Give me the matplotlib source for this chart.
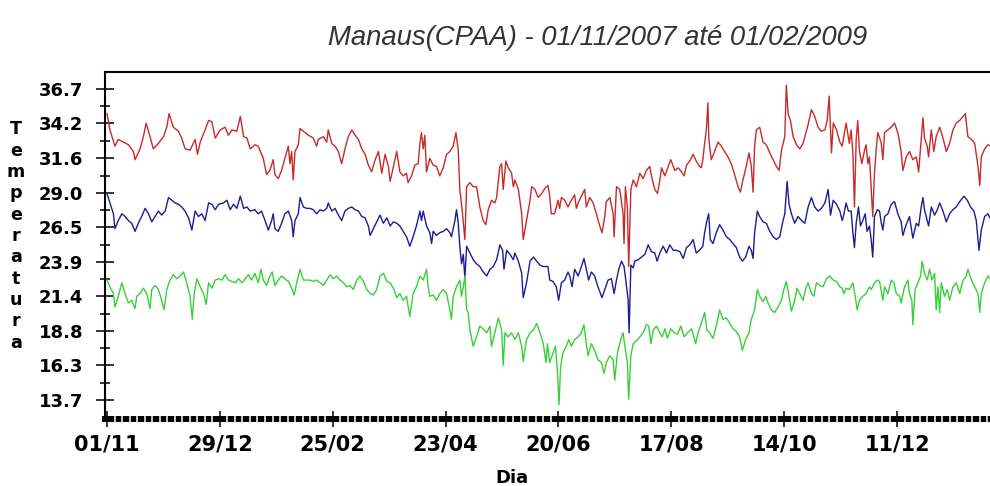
import matplotlib
matplotlib.use('Agg')
import matplotlib.pyplot as plt
import numpy as np

# dias contados a partir de 01/11/2007
tmax_dias = [0, 1.5, 4.1, 5.8, 8.4, 11, 13.6, 14.4, 17, 18.7, 20.1, 22.1, 23.8, 26.4, 29, 30.7, 31.9, 34.1, 36.7,
             38.4, 40.1, 42.7, 45.3, 46.5, 47.9, 50.4, 52.2, 53.9, 55.6, 58.2, 60.7, 62.4, 64.2, 66.7, 68.5, 70.2,
             71.9, 73.6, 76.0, 77.7, 80.3, 82.0, 83.7, 85.4, 86.3, 88.0, 89.7, 91.4, 93.2, 94.0, 94.9, 95.7, 96.6,
             98.3, 99.2, 100.9, 103.5, 106.0, 107.7, 108.6, 111.2, 112.9, 113.7, 115.5, 117.2, 118.9, 120.6, 122.3,
             124.0, 125.8, 127.5, 129.2, 130.9, 132.6, 134.3, 136.0, 137.8, 139.5, 141.2, 142.9, 144.6, 145.5,
             147.2, 148.9, 150.5, 152.2, 153.9, 154.7, 156.5, 158.2, 159.9, 160.8, 161.6, 162.5, 163.3, 164.2,
             165.9, 167.6, 169.3, 171.0, 172.8, 174.5, 176.2, 177.9, 179.3, 180.5, 181.3, 182.5, 183.9, 184.8,
             186.5, 188.2, 189.9, 191.6, 193.3, 194.7, 195.9, 197.6, 199.3, 200.2, 201.9, 202.8, 203.6, 205.0,
             206.2, 207.9, 208.8, 209.6, 211.4, 213.1, 213.9, 215.6, 217.4, 218.2, 219.9, 221.6, 223.4, 225.1,
             226.6, 227.5, 228.3, 230.0, 231.8, 232.6, 233.5, 235.2, 236.9, 238.6, 240.3, 241.2, 242.1, 243.8,
             245.5, 246.3, 248.1, 249.8, 251.5, 253.2, 254.4, 255.8, 256.6, 258.4, 260.1, 260.6, 261.8, 263.5,
             265.2, 265.7, 266.4, 267.4, 268.1, 269.2, 270.4, 272.1, 273.8, 275.5, 277.2, 278.9, 279.8, 281.5,
             282.9, 284.1, 285.0, 286.7, 288.4, 289.7, 291.8, 293.5, 295.2, 296.6, 297.8, 299.5, 301.2, 302.8,
             304.5, 305.4, 306.2, 307.1, 308.0, 308.8, 309.3, 310.5, 312.2, 314.0, 315.7, 317.4, 319.1, 320.8,
             322.5, 324.3, 325.5, 326.8, 328.5, 329.9, 331.1, 332.0, 332.8, 333.7, 335.4, 337.1, 338.8, 340.6,
             342.3, 344.0, 345.4, 346.6, 348.3, 349.1, 350.0, 351.2, 352.6, 354.3, 356.0, 357.7, 360.3, 362.0,
             363.7, 365.4, 367.1, 368.9, 370.1, 371.1, 372.3, 373.2, 374.9, 376.6, 377.8, 379.0, 379.8, 381.5,
             382.4, 383.3, 384.1, 385.0, 385.8, 386.7, 387.9, 389.3, 390.1, 391.0, 391.8, 392.7, 393.5, 394.4,
             395.3, 396.1, 397.8, 398.7, 399.6, 401.3, 403.0, 404.7, 406.4, 408.1, 409.0, 410.7, 412.4, 414.1,
             415.9, 417.1, 418.4, 419.3, 420.1, 421.5, 422.2, 423.6, 424.9, 426.1, 427.9, 429.6, 431.3, 433.0,
             434.7, 436.4, 438.2, 439.9, 441.1, 442.4, 444.2, 445.9, 447.6, 448.5, 449.3, 451.0, 452.7, 454.4,
             456.3, 458]
tmax = [34.9, 33.7, 32.5, 33.0, 32.8, 32.6, 32.1, 31.5, 32.3, 33.2, 34.2, 33.2, 32.3, 32.7, 33.2, 33.9, 34.9, 33.9,
        33.6, 33.1, 32.3, 32.2, 33.0, 31.9, 32.8, 33.7, 34.4, 34.3, 33.1, 33.7, 33.9, 33.3, 33.7, 33.6, 34.7, 33.2,
        33.1, 32.3, 32.6, 32.5, 31.6, 30.4, 30.7, 31.5, 30.4, 30.1, 30.7, 31.6, 32.5, 31.2, 32.1, 30.0, 32.1,
        32.6, 33.8, 33.6, 33.3, 33.1, 32.5, 33.0, 33.2, 32.8, 33.7, 32.7, 32.5, 32.1, 31.2, 32.3,
        33.2, 33.7, 33.3, 33.0, 32.3, 31.9, 31.1, 30.6, 31.5, 32.1, 30.5, 31.9, 31.0, 29.9,
        31.0, 32.1, 30.6, 30.3, 30.5, 29.8, 30.3, 31.1, 31.2, 32.7, 33.5, 32.3, 33.3, 30.6,
        31.6, 31.1, 31.0, 30.3, 30.9, 31.9, 32.1, 32.5, 33.5, 32.2, 29.3, 27.8, 25.6, 29.5,
        29.8, 29.5, 29.5, 28.0, 27.0, 26.7, 27.8, 28.5, 28.3, 28.7, 31.0, 31.2, 29.3, 31.4,
        30.9, 30.5, 29.5, 30.0, 29.3, 27.5, 25.6, 27.0, 28.5, 29.5, 29.3, 28.7, 29.0, 29.4,
        29.6, 28.8, 27.5, 27.5, 28.5, 27.9, 28.7, 28.5, 28.0, 28.5, 28.9, 27.9, 28.3, 28.8,
        29.3, 28.0, 28.7, 28.3, 27.5, 26.6, 26.1, 27.3, 28.4, 28.7, 27.5, 25.8, 29.5, 29.3,
        27.5, 25.3, 29.5, 28.0, 23.6, 29.3, 30.0, 29.5, 30.5, 30.1, 30.7, 31.0, 30.3, 29.3,
        29.0, 30.0, 30.9, 30.3, 31.0, 31.5, 30.7, 30.9, 30.6, 30.3, 31.1, 31.4, 31.9, 31.4,
        31.0, 30.9, 31.5, 32.7, 33.7, 35.7, 33.0, 31.5, 32.1, 32.8, 32.5, 32.1, 31.7, 31.2,
        30.4, 29.5, 29.1, 30.0, 31.0, 32.0, 31.0, 29.1, 32.5, 33.7, 33.9, 32.8, 32.6, 32.0,
        31.5, 31.0, 30.7, 32.2, 33.2, 37.0, 34.9, 34.4, 33.2, 32.6, 32.3, 32.7, 34.1, 35.2,
        34.7, 33.9, 33.6, 33.7, 34.4, 36.2, 32.0, 34.2, 33.7, 32.8, 32.5, 33.5, 34.2, 32.7,
        33.7, 32.0, 28.0, 33.0, 34.4, 32.1, 31.2, 32.2, 32.6, 31.2, 31.7, 29.3, 27.3, 30.5,
        32.3, 33.5, 32.8, 31.5, 33.5, 33.7, 33.9, 34.2, 33.5, 32.1, 30.7, 31.7, 32.1, 31.5,
        31.7, 30.6, 33.0, 34.6, 33.1, 32.5, 31.7, 33.7, 32.1, 33.2, 33.9, 33.1, 32.1, 32.7,
        33.7, 34.2, 34.4, 34.7, 34.9, 33.2, 33.0, 32.7, 31.0, 29.6, 31.7, 32.3, 32.6, 32.5,
        32.6, 32.8]

tmed_dias = [0, 1.5, 3.3, 4.1, 5.8, 7.6, 9.3, 11.0, 12.7, 14.4, 16.1, 17.8, 19.6, 21.3, 23.0, 24.7, 26.4, 28.1,
             29.9, 31.6, 33.3, 35.0, 36.7, 38.4, 40.1, 41.9, 43.6, 45.3, 47.0, 48.7, 50.4, 52.2, 53.9, 55.6, 57.3,
             59.9, 61.6, 63.3, 65.0, 66.7, 68.5, 70.2, 71.9, 73.6, 76.0, 77.7, 79.4, 81.2, 82.9, 84.6, 85.4, 86.3,
             88.0, 89.7, 91.4, 93.2, 94.9, 95.7, 96.6, 98.3, 99.2, 100.9, 102.6, 104.3, 106.0, 107.7, 109.5, 111.2,
             112.9, 113.7, 115.5, 117.2, 118.9, 120.6, 122.3, 124.0, 125.8, 127.5, 129.2, 130.9, 132.6, 134.3,
             135.2, 136.9, 138.6, 140.3, 142.0, 143.8, 145.5, 147.2, 148.9, 150.5, 152.2, 153.9, 155.6, 157.3,
             159.0, 160.8, 161.6, 162.5, 164.2, 165.9, 166.8, 167.6, 169.3, 171.0, 172.8, 174.5, 176.2, 177.0,
             178.8, 179.6, 180.5, 181.3, 182.2, 183.1, 183.9, 184.8, 186.5, 188.2, 189.9, 191.6, 193.3, 195.1,
             196.8, 198.5, 200.2, 201.9, 203.3, 204.0, 205.4, 207.1, 208.8, 209.6, 211.4, 213.1, 213.9, 215.6,
             217.4, 219.1, 220.8, 222.5, 224.2, 226.6, 227.5, 229.2, 230.9, 232.1, 233.5, 235.2, 236.9, 237.8,
             239.0, 240.3, 242.1, 243.8, 245.1, 246.3, 247.5, 248.9, 250.6, 252.3, 254.4, 255.8, 257.5, 259.2,
             260.6, 261.8, 263.0, 264.4, 265.7, 266.6, 267.8, 268.3, 269.2, 270.4, 271.2, 272.9, 274.7, 276.4,
             278.1, 279.8, 281.5, 282.7, 284.1, 285.8, 287.5, 289.2, 291.0, 292.7, 294.4, 296.1, 297.8, 299.5,
             301.2, 302.8, 304.5, 306.2, 307.1, 308.3, 309.2, 310.0, 311.4, 313.1, 314.8, 316.5, 318.3, 320.0,
             321.7, 323.4, 325.1, 326.5, 328.2, 329.9, 331.1, 332.0, 332.8, 334.2, 335.4, 337.1, 338.8, 340.6,
             342.3, 344.0, 345.7, 347.1, 348.3, 349.5, 350.5, 351.7, 353.4, 355.1, 356.9, 358.6, 360.3, 362.0,
             363.7, 365.4, 367.1, 368.9, 370.6, 371.8, 373.2, 374.9, 376.6, 377.8, 378.6, 379.8, 381.0, 382.4,
             383.3, 384.1, 385.0, 386.2, 387.2, 388.4, 389.6, 390.6, 391.8, 392.7, 393.5, 394.4, 395.8, 397.0,
             397.8, 398.7, 399.6, 401.3, 403.0, 404.7, 406.4, 408.1, 409.0, 410.7, 412.4, 414.1, 415.9, 417.1,
             418.4, 419.3, 420.1, 421.5, 422.2, 423.6, 425.3, 426.7, 427.9, 429.6, 431.3, 433.0, 434.7, 436.4,
             438.2, 440.4, 442.1, 443.8, 445.5, 446.7, 448.1, 449.3, 451.0, 452.7, 454.4, 456.3, 458]
tmed = [29.0, 28.3, 27.5, 26.4, 27.0, 27.5, 27.3, 27.0, 26.8, 26.2, 26.8, 27.3, 27.9, 27.5, 26.9, 27.3, 27.7, 27.4,
        27.7, 28.7, 28.5, 28.3, 28.2, 28.0, 27.7, 27.2, 26.3, 27.7, 27.3, 27.5, 27.0, 28.3, 28.2, 27.8, 28.2,
        28.3, 28.5, 27.8, 28.2, 27.9, 28.8, 27.9, 28.0, 27.7, 27.8, 27.5, 27.7, 27.0, 26.3, 27.0, 27.5, 26.4,
        26.2, 26.8, 27.5, 27.7, 27.0, 25.8, 27.0, 27.5, 28.7, 28.0, 27.9, 27.9, 27.8, 27.5, 27.8, 27.7,
        27.9, 28.3, 27.7, 27.9, 27.4, 27.0, 27.7, 27.9, 28.0, 27.8, 27.7, 27.3, 27.2, 26.6,
        25.9, 26.4, 26.9, 27.4, 26.8, 27.2, 26.6, 26.9, 26.8, 26.6, 26.2, 25.8, 25.1, 25.8,
        26.6, 27.7, 27.0, 27.7, 26.6, 26.1, 25.3, 26.2, 25.9, 26.1, 26.2, 26.4, 26.1, 25.8,
        27.0, 27.8, 26.8, 25.1, 23.8, 24.5, 22.7, 25.1, 24.6, 24.1, 23.8, 23.6, 23.2, 22.9,
        23.4, 23.6, 24.1, 25.2, 24.8, 23.4, 24.8, 24.5, 24.1, 24.6, 24.0, 23.1, 21.3, 22.4,
        24.0, 24.3, 24.0, 23.7, 23.6, 23.6, 22.6, 22.5, 22.1, 21.1, 22.4, 22.6, 23.2, 22.9,
        22.1, 23.4, 22.9, 23.6, 24.2, 23.4, 22.6, 23.2, 22.9, 22.1, 21.3, 21.9, 22.6, 22.7,
        21.6, 22.6, 23.4, 24.0, 23.6, 22.6, 21.1, 18.7, 23.7, 23.5, 24.0, 24.1, 24.3, 24.5,
        25.2, 24.7, 24.6, 24.0, 24.6, 25.1, 24.6, 25.2, 24.8, 24.8, 24.7, 24.2, 25.0, 25.2,
        25.6, 24.6, 24.8, 25.1, 26.1, 27.0, 27.5, 25.6, 25.3, 26.1, 26.7, 26.3, 25.8, 25.6,
        25.3, 25.0, 24.3, 24.0, 24.3, 25.1, 24.8, 24.2, 26.1, 27.7, 27.3, 26.9, 26.8, 26.2,
        25.8, 25.6, 25.8, 26.8, 27.5, 29.9, 28.2, 27.5, 26.8, 27.3, 27.0, 26.8, 28.0, 28.7,
        28.0, 27.7, 27.9, 28.3, 29.3, 27.4, 28.5, 28.2, 27.7, 27.0, 27.4, 28.3, 27.7, 27.7,
        26.1, 25.0, 26.8, 28.0, 26.6, 27.0, 27.5, 26.2, 26.6, 25.6, 24.3, 27.3, 27.8, 27.7,
        26.9, 26.3, 27.3, 27.5, 28.2, 28.4, 27.5, 26.9, 25.9, 26.7, 27.3, 25.7, 26.8, 26.6,
        28.0, 28.7, 27.8, 27.0, 26.6, 28.0, 27.4, 27.8, 28.3, 27.7, 26.9, 27.5, 27.8, 28.0,
        28.4, 28.8, 28.5, 28.0, 27.7, 27.0, 24.8, 26.3, 27.3, 27.5, 27.0, 27.3, 27.5]

tmin_dias = [0, 1.5, 3.3, 4.1, 5.8, 7.6, 9.3, 11.0, 12.7, 14.4, 15.3, 17.0, 18.7, 20.4, 22.1, 23.0, 24.7, 26.4,
             28.1, 29.3, 30.7, 32.4, 34.1, 35.9, 37.6, 39.3, 41.0, 42.7, 43.8, 44.8, 46.2, 47.9, 49.6, 51.0, 52.2,
             53.9, 55.6, 57.3, 59.0, 60.7, 62.4, 64.2, 65.9, 67.6, 69.3, 71.0, 72.7, 74.3, 76.0, 77.7, 79.1, 80.3,
             82.0, 83.7, 84.9, 86.3, 88.0, 89.7, 91.4, 93.2, 94.9, 96.2, 97.5, 99.2, 100.9, 102.6, 104.3, 106.0,
             107.7, 109.5, 111.2, 112.9, 114.6, 116.3, 118.0, 119.7, 121.5, 123.2, 124.9, 126.6, 128.3, 130.0,
             131.8, 133.5, 135.2, 136.9, 138.6, 140.3, 142.1, 143.8, 145.5, 147.2, 148.9, 150.5, 152.2, 153.9,
             155.6, 157.3, 159.0, 160.8, 162.5, 164.2, 165.0, 165.9, 167.6, 169.3, 171.0, 172.8, 174.5, 176.2,
             177.0, 177.9, 179.6, 181.3, 182.2, 183.1, 183.9, 184.8, 185.6, 186.5, 188.2, 189.9, 191.6, 193.3,
             195.1, 196.8, 197.6, 199.3, 201.1, 202.8, 203.6, 204.5, 206.2, 207.9, 209.6, 211.4, 213.1, 213.9,
             215.6, 217.4, 219.1, 220.8, 222.5, 224.2, 225.6, 226.3, 227.5, 229.2, 230.4, 231.4, 232.3, 233.1,
             234.3, 236.0, 237.3, 238.6, 240.3, 242.1, 243.8, 245.1, 246.3, 247.2, 248.9, 250.6, 252.3, 254.1,
             255.4, 256.6, 258.4, 260.1, 260.9, 262.3, 264.0, 265.2, 266.1, 267.4, 268.1, 269.2, 270.4, 272.1,
             273.8, 275.5, 277.2, 278.4, 279.5, 280.7, 282.4, 284.1, 285.3, 286.7, 288.0, 289.7, 291.5, 293.2,
             294.9, 296.6, 298.3, 300.4, 302.5, 303.7, 305.4, 307.1, 308.3, 309.7, 311.4, 313.1, 314.8, 316.5,
             318.3, 320.0, 321.7, 323.4, 325.1, 326.5, 328.2, 329.9, 331.1, 332.8, 334.2, 335.4, 337.1, 338.5,
             339.7, 341.4, 343.1, 344.8, 346.6, 347.8, 349.1, 350.5, 351.7, 353.4, 354.6, 356.0, 357.7, 359.1,
             360.3, 362.0, 363.2, 364.6, 366.3, 368.0, 369.7, 371.4, 373.2, 374.9, 376.6, 377.8, 378.6, 379.8,
             381.5, 383.3, 384.5, 385.5, 386.7, 388.4, 390.1, 391.8, 392.7, 394.4, 395.8, 397.0, 397.8, 398.7,
             399.6, 401.3, 403.0, 404.4, 405.6, 407.3, 408.1, 409.8, 411.6, 412.4, 413.6, 414.1, 415.3, 416.7,
             418.1, 418.9, 420.1, 421.5, 422.7, 423.9, 425.3, 426.1, 427.0, 427.9, 428.7, 430.4, 431.8, 433.0,
             434.7, 436.4, 438.2, 439.9, 441.6, 442.4, 444.2, 445.9, 447.6, 448.5, 449.3, 451.0, 452.7, 454.4,
             456.3, 458]
tmin = [22.6, 22.1, 21.6, 20.6, 21.4, 22.4, 21.6, 20.9, 21.1, 20.5, 21.4, 21.6, 22.0, 21.6, 20.5, 21.9, 22.2, 21.9,
        21.1, 20.4, 21.9, 22.6, 23.0, 22.7, 22.9, 23.2, 22.4, 21.4, 19.7, 21.6, 22.7, 22.1, 21.6, 20.8, 22.4,
        22.0, 22.6, 22.7, 22.6, 23.0, 22.6, 22.5, 22.4, 22.7, 22.4, 22.7, 23.0, 22.6, 23.1, 22.4, 23.4, 22.6,
        22.2, 22.9, 23.2, 22.2, 22.6, 22.9, 22.7, 22.5, 22.0, 21.5, 22.4, 23.4, 22.6, 22.6, 22.6, 22.5,
        22.6, 22.4, 22.2, 22.6, 23.0, 22.7, 22.9, 22.6, 22.4, 22.1, 22.2, 21.9, 22.6, 22.9,
        22.5, 21.9, 21.6, 21.5, 21.9, 22.9, 23.1, 22.5, 22.4, 22.0, 21.3, 21.6, 21.1, 21.4,
        19.9, 21.6, 22.1, 22.9, 22.6, 23.4, 22.1, 21.4, 21.5, 21.1, 21.6, 21.9, 21.6, 20.4,
        19.7, 21.4, 22.1, 22.6, 21.4, 22.1, 22.9, 20.4, 20.2, 18.9, 17.7, 18.4, 19.2, 19.0,
        18.7, 19.2, 17.7, 18.7, 19.8, 18.9, 16.3, 18.7, 18.4, 18.7, 18.2, 18.7, 17.7, 16.6,
        18.2, 18.7, 18.9, 19.4, 18.7, 17.9, 16.5, 17.9, 16.5, 17.2, 17.7, 16.0, 13.4, 16.2,
        17.2, 17.7, 18.2, 17.7, 18.2, 18.4, 18.7, 19.3, 17.9, 17.0, 17.9, 17.4, 16.7, 16.5,
        15.7, 16.5, 17.0, 16.7, 15.2, 17.2, 18.2, 18.7, 17.7, 16.5, 13.8, 17.0, 17.9, 18.1,
        18.4, 18.7, 19.3, 19.2, 17.9, 18.9, 19.2, 18.7, 18.4, 19.0, 18.3, 19.0, 18.7, 18.6,
        19.2, 18.4, 18.7, 19.0, 17.9, 18.7, 19.4, 20.2, 18.9, 18.7, 18.3, 19.2, 20.4, 19.7,
        19.8, 19.4, 19.0, 18.8, 18.4, 17.4, 18.2, 18.7, 19.7, 20.4, 21.9, 21.4, 21.0, 21.4,
        20.9, 20.4, 20.2, 20.6, 21.1, 21.9, 22.5, 21.4, 20.3, 21.1, 22.0, 21.6, 21.1, 22.0,
        22.4, 21.6, 21.4, 22.4, 22.2, 22.1, 22.7, 22.9, 22.6, 22.5, 22.1, 22.0, 21.6, 22.0,
        21.9, 22.4, 21.4, 20.4, 21.1, 21.4, 21.6, 22.1, 21.9, 22.4, 22.6, 22.5, 21.9, 21.1,
        22.1, 21.6, 22.6, 22.4, 21.6, 21.4, 20.9, 22.1, 22.6, 21.6, 21.1, 19.3, 21.9, 22.4,
        22.9, 24.0, 23.1, 22.6, 23.4, 22.6, 23.1, 20.4, 22.1, 20.2, 22.4, 21.4, 21.9, 21.1,
        22.1, 22.4, 21.6, 22.6, 22.9, 23.4, 22.6, 22.1, 21.6, 20.2, 21.6, 22.4, 22.9, 22.6,
        22.5, 22.7]

ytick_vals = [13.7, 16.3, 18.8, 21.4, 23.9, 26.5, 29.0, 31.6, 34.2, 36.7]
xtick_dias = [0, 58, 116, 174, 232, 290, 348, 406]
xtick_labels = ['01/11', '29/12', '25/02', '23/04', '20/06', '17/08', '14/10', '11/12']

fig = plt.figure(figsize=(9.9, 4.86), dpi=100)
# eixo passa da borda direita (grafico cortado como no original)
ax = fig.add_axes([105 / 990, 1 - 419 / 486, 895 / 990, 347 / 486])

ax.plot(tmax_dias, tmax, color='#c82a2a', lw=1.0)
ax.plot(tmed_dias, tmed, color='#1c1c96', lw=1.0)
ax.plot(tmin_dias, tmin, color='#38d038', lw=1.0)

ax.set_xlim(-1.03, 458.9)
ax.set_ylim(12.33, 37.98)

ax.set_yticks(ytick_vals)
ax.set_yticklabels(['%.1f' % v for v in ytick_vals], fontsize=13, fontweight='bold')
meios = [(a + b) / 2 for a, b in zip(ytick_vals[:-1], ytick_vals[1:])]
ax.set_yticks(meios, minor=True)
ax.tick_params(axis='y', which='major', direction='inout', length=13, width=1.1, pad=9)
ax.tick_params(axis='y', which='minor', direction='inout', length=6.5, width=1.1)

ax.set_xticks(xtick_dias)
ax.set_xticklabels(xtick_labels, fontsize=15, fontweight='bold')
ax.tick_params(axis='x', which='major', direction='inout', length=11, width=1.1, pad=6)
# faixa tracejada do eixo x: tracinhos brancos por cima da linha grossa
ax.set_xticks(np.arange(0, 460, 58 / 15), minor=True)
ax.tick_params(axis='x', which='minor', direction='inout', length=4.4, width=1.1, color='white')
ax.xaxis.set_zorder(3)

ax.spines['right'].set_visible(False)
ax.spines['left'].set_linewidth(1.5)
ax.spines['top'].set_linewidth(1.5)
ax.spines['bottom'].set_linewidth(4.3)

fig.text(598 / 990, 1 - 38 / 486, 'Manaus(CPAA) - 01/11/2007 até 01/02/2009',
         ha='center', va='center', fontsize=19.8, style='italic', color='#333333',
         family='Liberation Sans')
fig.text(512 / 990, 1 - 478 / 486, 'Dia', ha='center', va='center', fontsize=13, fontweight='bold')
fig.text(16 / 990, 1 - 236 / 486, '\n'.join('Temperatura'), ha='center', va='center',
         fontsize=12.6, fontweight='bold', linespacing=1.24)

fig.savefig('out.png', dpi=100)
